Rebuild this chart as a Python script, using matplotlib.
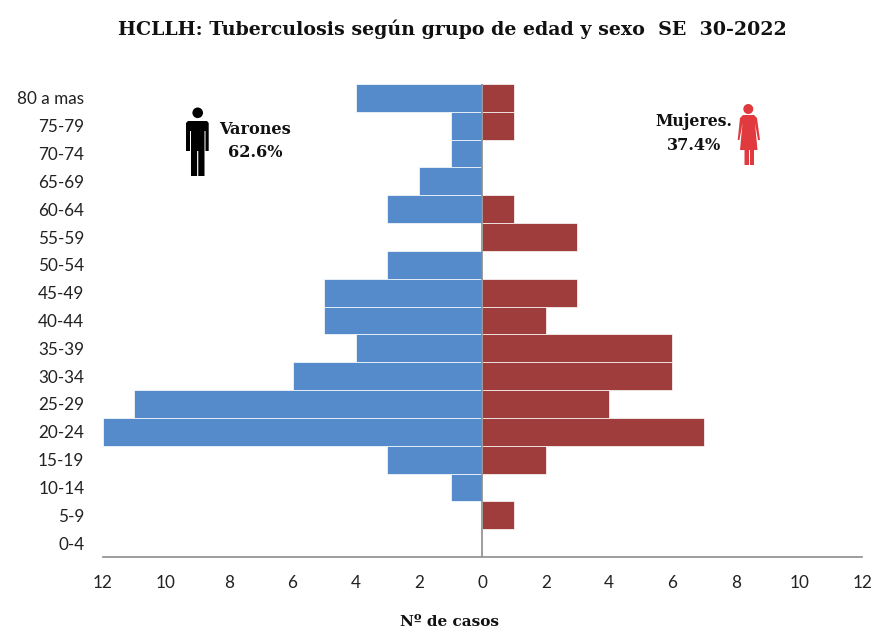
import numpy as np
import matplotlib
matplotlib.use("Agg")
import matplotlib.pyplot as plt
from matplotlib.patches import Circle, Polygon
from matplotlib.transforms import Affine2D

grupos = ['80 a mas', '75-79', '70-74', '65-69', '60-64', '55-59', '50-54', '45-49', '40-44',
          '35-39', '30-34', '25-29', '20-24', '15-19', '10-14', '5-9', '0-4']
varones = [4, 1, 1, 2, 3, 0, 3, 5, 5, 4, 6, 11, 12, 3, 1, 0, 0]
mujeres = [1, 1, 0, 0, 1, 3, 0, 3, 2, 6, 6, 4, 7, 2, 0, 1, 0]
ticks = [-12, -10, -8, -6, -4, -2, 0, 2, 4, 6, 8, 10, 12]

W, H = 895, 634
AZUL = '#558ACB'
ROJO = '#9E3D3C'
GRIS = '#8C8C8C'
SERIF = 'DejaVu Serif'
SANS = 'Lato'

fig = plt.figure(figsize=(W / 100, H / 100), dpi=100)
ax = fig.add_axes([102.5 / W, 1 - 557 / H, (862.5 - 102.5) / W, (557 - 84) / H])

y = np.arange(len(grupos))
ax.barh(y, -np.array(varones), height=1.0, color=AZUL, edgecolor='white', linewidth=0.5)
ax.barh(y, mujeres, height=1.0, color=ROJO, edgecolor='white', linewidth=0.5)

ax.set_xlim(-12, 12)
ax.set_ylim(len(grupos) - 0.5, -0.5)
ax.set_yticks(y)
ax.set_yticklabels(grupos, fontname=SANS, fontsize=12.3, color='#222222')
ax.set_xticks(ticks)
ax.set_xticklabels([str(abs(t)) for t in ticks], fontname=SANS, fontsize=12.3, color='#222222')
ax.tick_params(axis='y', length=0, pad=13)
ax.tick_params(axis='x', length=0, pad=13)
for s in ['top', 'left', 'right']:
    ax.spines[s].set_visible(False)
ax.spines['bottom'].set_color(GRIS)
ax.spines['bottom'].set_linewidth(1.2)
ax.axvline(0, color=GRIS, lw=1.2)

# textos en pixeles de la imagen
def txt(x, y, s, size):
    fig.text(x / W, 1 - y / H, s, ha='center', va='center', fontname=SERIF,
             fontweight='bold', fontsize=size, color='#111111')

txt(452, 29, 'HCLLH: Tuberculosis según grupo de edad y sexo  SE  30-2022', 13.7)
txt(449.5, 622, 'Nº de casos', 11)
txt(255, 129, 'Varones', 11.6)
txt(255, 152, '62.6%', 11.6)
txt(694, 122, 'Mujeres.', 11.3)
txt(694, 145, '37.4%', 11.6)

# iconos
px = Affine2D().scale(1, -1).translate(0, H)
def add(p):
    p.set_transform(px)
    fig.add_artist(p)

# hombre
add(Circle((197.7, 112.8), 5.3, color='black', lw=0))
add(Polygon([(188, 121), (207, 121), (208.7, 123), (208.7, 151), (205.5, 151), (205.5, 131), (204.5, 131),
             (204.5, 176), (198.3, 176), (198.3, 151), (197.1, 151), (197.1, 176), (191, 176),
             (191, 131), (190, 131), (190, 151), (186, 151), (186, 123)], color='black', lw=0))

# mujer
ROJO_ICONO = '#E03A3E'
add(Circle((748.3, 109), 5, color=ROJO_ICONO, lw=0))
add(Polygon([(743, 115), (754, 115), (757, 118), (760, 140), (758, 140), (755, 123), (757.5, 150),
             (754, 150), (754, 165), (750, 165), (750, 150), (749, 150), (749, 165), (744.5, 165),
             (744.5, 150), (740, 150), (742.5, 123), (739.5, 140), (737.7, 140), (740, 118)],
            color=ROJO_ICONO, lw=0))

fig.savefig('out.png', dpi=100)
